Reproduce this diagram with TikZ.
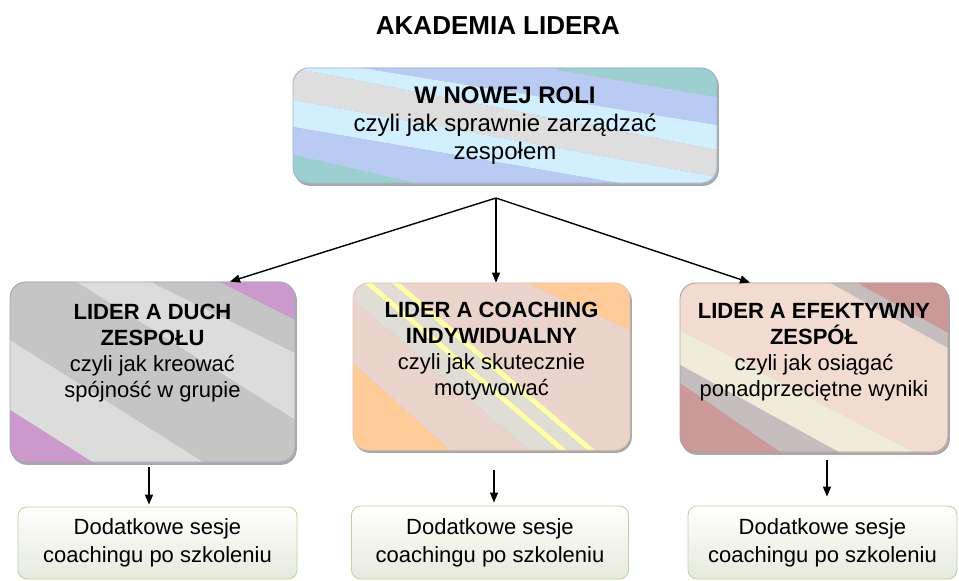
\documentclass[tikz,border=0pt]{standalone}
\usepackage{fontspec}
\setmainfont{Liberation Sans}
\usepackage{tikz}
\usetikzlibrary{arrows.meta,backgrounds}
\definecolor{topTeal}{HTML}{9CCFCF}
\definecolor{topBlue}{HTML}{B9CBF3}
\definecolor{topLight}{HTML}{D2EFFF}
\definecolor{topGrey}{HTML}{DEDEDE}
\definecolor{topEdge}{HTML}{9FB4CF}
\definecolor{duchLilac}{HTML}{CC99CC}
\definecolor{duchDark}{HTML}{C5C5C5}
\definecolor{duchLight}{HTML}{DCDCDC}
\definecolor{duchEdge}{HTML}{A6A6C6}
\definecolor{coachPeach}{HTML}{FFCC99}
\definecolor{coachPink}{HTML}{EBD4CC}
\definecolor{coachGrey}{HTML}{E0DDD4}
\definecolor{coachYellow}{HTML}{FFFFAA}
\definecolor{coachEdge}{HTML}{E3C7AE}
\definecolor{efRose}{HTML}{CC9999}
\definecolor{efGrey}{HTML}{C6BEBE}
\definecolor{efPink}{HTML}{F2DCD2}
\definecolor{efCream}{HTML}{F0ECDA}
\definecolor{efEdge}{HTML}{B79A9A}
\definecolor{sesjaLow}{HTML}{E6EADA}
\definecolor{sesjaEdge}{HTML}{B5D59E}
\definecolor{shadowc}{HTML}{A8A8A8}
\tikzset{
  box/.style={rounded corners=16pt, line width=0.8pt, align=center, inner sep=4pt},
  lead/.style={box, draw=topEdge, minimum width=424pt, minimum height=115pt, font=\fontsize{24}{28}\selectfont},
  topic/.style={box, font=\fontsize{22}{26}\selectfont, text depth=36pt},
  extra/.style={box, rounded corners=9pt, draw=sesjaEdge, top color=white, bottom color=sesjaLow, font=\fontsize{22}{28}\selectfont},
  arr/.style={draw=black, line width=1.4pt, -{Triangle[length=10pt,width=8pt]}},
  head/.style={font=\fontsize{26}{30}\selectfont\bfseries},
}

\begin{document}
\begin{tikzpicture}[x=1pt,y=-1pt]
\useasboundingbox (0,0) rectangle (959,581);
\node[head] (title) at (498,26) {AKADEMIA LIDERA};
\node[lead] (top) at (505,125.5) {\textbf{W NOWEJ ROLI}\\czyli jak sprawnie zarządzać\\zespołem};
\node[topic, draw=duchEdge, minimum width=285pt, minimum height=180pt, text depth=42pt] (duch) at (152.5,372) {\textbf{LIDER A DUCH}\\\textbf{ZESPOŁU}\\czyli jak kreować\\spójność w grupie};
\node[topic, draw=coachEdge, minimum width=277pt, minimum height=167pt] (coach) at (491.5,366.5) {\textbf{LIDER A COACHING}\\\textbf{INDYWIDUALNY}\\czyli jak skutecznie\\motywować};
\node[topic, draw=efEdge, minimum width=268pt, minimum height=169pt] (efekt) at (814,367.5) {\textbf{LIDER A EFEKTYWNY}\\\textbf{ZESPÓŁ}\\czyli jak osiągać\\ponadprzeciętne wyniki};
\node[extra, minimum width=279pt, minimum height=72pt] (sesja1) at (157.5,543) {Dodatkowe sesje\\coachingu po szkoleniu};
\node[extra, minimum width=277pt, minimum height=73pt] (sesja2) at (490,542.5) {Dodatkowe sesje\\coachingu po szkoleniu};
\node[extra, minimum width=269pt, minimum height=73pt] (sesja3) at (822.5,542.5) {Dodatkowe sesje\\coachingu po szkoleniu};

% arrows
\coordinate (fork) at (496,198);
\draw[arr] (fork) -- ([xshift=77.5pt]duch.north);
\draw[arr] (fork) -- (fork |- coach.north);
\draw[arr] (fork) -- ([xshift=-64pt]efekt.north);
\draw[arr, shorten <=5pt, shorten >=2pt] ([xshift=-3.5pt]duch.south) -- ([xshift=-8.5pt]sesja1.north);
\draw[arr, shorten <=20pt, shorten >=3pt] ([xshift=2.5pt]coach.south) -- ([xshift=4pt]sesja2.north);
\draw[arr, shorten <=8pt, shorten >=9pt] ([xshift=13pt]efekt.south) -- ([xshift=4.5pt]sesja3.north);

% striped fills
\begin{scope}[on background layer]
  \foreach \n in {top,duch,coach,efekt}
    \fill[shadowc, rounded corners=16pt] ([xshift=1.5pt,yshift=-2.5pt]\n.south west) rectangle ([xshift=1.5pt,yshift=-2.5pt]\n.north east);
  \begin{scope}
    \clip[rounded corners=16pt] (top.south west) rectangle (top.north east);
    \foreach \c/\p/\q/\r/\s in {topTeal/-50/-50/25/97, topBlue/25/97/57/125, topLight/57/125/68/150, topGrey/68/150/100/177, topLight/100/177/127/200, topBlue/127/200/155/253, topTeal/155/253/300/400}
      \fill[\c] (293,\p) -- (717,\q) -- (717,\s) -- (293,\r) -- cycle;
  \end{scope}
  \begin{scope}
    \clip[rounded corners=16pt] (duch.south west) rectangle (duch.north east);
    \foreach \c/\p/\q/\r/\s in {duchLilac/0/0/176/320, duchDark/176/320/213/353, duchLight/213/353/240/420, duchDark/240/420/340/520, duchLight/340/520/410/590, duchLilac/410/590/700/800}
      \fill[\c] (10,\p) -- (295,\q) -- (295,\s) -- (10,\r) -- cycle;
  \end{scope}
  \begin{scope}
    \clip[rounded corners=16pt] (coach.south west) rectangle (coach.north east);
    \foreach \c/\p/\q/\r/\s in {coachPeach/0/0/204/330, coachPink/204/330/243/480, coachYellow/243/480/250/487, coachGrey/250/487/267/504, coachYellow/267/504/274/511, coachGrey/274/511/300/537, coachPink/300/537/363/612, coachPeach/363/612/700/800}
      \fill[\c] (353,\p) -- (630,\q) -- (630,\s) -- (353,\r) -- cycle;
  \end{scope}
  \begin{scope}
    \clip[rounded corners=16pt] (efekt.south west) rectangle (efekt.north east);
    \foreach \c/\p/\q/\r/\s in {efRose/0/0/186/333, efGrey/186/333/200/348, efPink/200/348/330/470, efCream/330/470/365/512, efGrey/365/512/383/568, efRose/383/568/700/800}
      \fill[\c] (680,\p) -- (948,\q) -- (948,\s) -- (680,\r) -- cycle;
  \end{scope}
\end{scope}
\end{tikzpicture}
\end{document}
